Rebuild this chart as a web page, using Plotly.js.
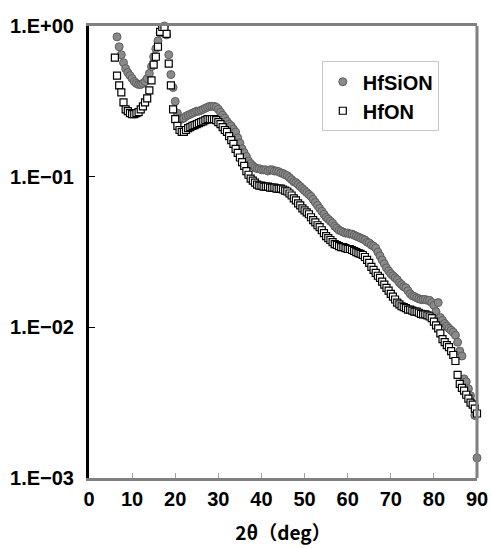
<!DOCTYPE html>
<html>
<head>
<meta charset="utf-8">
<script src="https://cdn.plot.ly/plotly-3.0.1.min.js"></script>
<style>
html,body{margin:0;padding:0;background:#fff;}
#chart{width:492px;height:548px;}
</style>
</head>
<body>
<div id="chart"></div>
<script>
// 2θ (deg) for HfSiON
const angleHfSiON = [6.5,7,7.5,8,8.5,9,9.5,10,10.5,11,11.5,12,12.5,13,13.5,14,14.5,15,15.5,16,16.5,17,17.5,18,18.5,19,19.5,20,20.5,21,21.5,22,22.5,23,23.5,24,24.5,25,25.5,26,26.5,27,27.5,28,28.5,29,29.5,30,30.5,31,31.5,32,32.5,33,33.5,34,34.5,35,35.5,36,36.5,37,37.5,38,38.5,39,39.5,40,40.5,41,41.5,42,42.5,43,43.5,44,44.5,45,45.5,46,46.5,47,47.5,48,48.5,49,49.5,50,50.5,51,51.5,52,52.5,53,53.5,54,54.5,55,55.5,56,56.5,57,57.5,58,58.5,59,59.5,60,60.5,61,61.5,62,62.5,63,63.5,64,64.5,65,65.5,66,66.5,67,67.5,68,68.5,69,69.5,70,70.5,71,71.5,72,72.5,73,73.5,74,74.5,75,75.5,76,76.5,77,77.5,78,78.5,79,79.5,80,80.5,81,81.5,82,82.5,83,83.5,84,84.5,85,85.5,86,86.5,87,87.5,88,88.5,89,89.5,90];
const intensityHfSiON = [0.847,0.728,0.645,0.571,0.522,0.491,0.469,0.448,0.428,0.416,0.409,0.409,0.416,0.428,0.448,0.484,0.538,0.625,0.707,0.797,0.899,0.985,1.0,0.873,0.645,0.476,0.391,0.316,0.264,0.245,0.241,0.245,0.252,0.256,0.260,0.264,0.268,0.272,0.272,0.276,0.280,0.285,0.289,0.293,0.293,0.293,0.289,0.280,0.268,0.256,0.245,0.233,0.223,0.217,0.207,0.198,0.181,0.167,0.153,0.144,0.136,0.127,0.122,0.118,0.115,0.113,0.113,0.111,0.111,0.111,0.109,0.111,0.111,0.109,0.109,0.108,0.106,0.105,0.103,0.1015,0.0985,0.0956,0.0927,0.0913,0.0886,0.0860,0.0834,0.0809,0.0785,0.0762,0.0739,0.0707,0.0675,0.0645,0.0616,0.0589,0.0563,0.0538,0.0522,0.0506,0.0491,0.0469,0.0455,0.0441,0.0435,0.0428,0.0422,0.0422,0.0416,0.0416,0.0409,0.0403,0.0397,0.0391,0.0385,0.0380,0.0368,0.0363,0.0352,0.0346,0.0336,0.0316,0.0298,0.0280,0.0264,0.0248,0.0237,0.0227,0.0220,0.0213,0.0207,0.0198,0.0192,0.0186,0.0183,0.0175,0.0167,0.0162,0.0160,0.0157,0.0155,0.0153,0.0153,0.0153,0.0151,0.0151,0.0146,0.0140,0.0127,0.0146,0.0116,0.0111,0.0106,0.0102,0.00985,0.00956,0.00927,0.00886,0.00797,0.00696,0.00645,0.00455,0.00435,0.00391,0.00352,0.00311,0.00260,0.00136];

// 2θ (deg) for HfON
const angleHfON = [6,6.5,7,7.5,8,8.5,9,9.5,10,10.5,11,11.5,12,12.5,13,13.5,14,14.5,15,15.5,16,16.5,17,17.5,18,18.5,19,19.5,20,20.5,21,21.5,22,22.5,23,23.5,24,24.5,25,25.5,26,26.5,27,27.5,28,28.5,29,29.5,30,30.5,31,31.5,32,32.5,33,33.5,34,34.5,35,35.5,36,36.5,37,37.5,38,38.5,39,39.5,40,40.5,41,41.5,42,42.5,43,43.5,44,44.5,45,45.5,46,46.5,47,47.5,48,48.5,49,49.5,50,50.5,51,51.5,52,52.5,53,53.5,54,54.5,55,55.5,56,56.5,57,57.5,58,58.5,59,59.5,60,60.5,61,61.5,62,62.5,63,63.5,64,64.5,65,65.5,66,66.5,67,67.5,68,68.5,69,69.5,70,70.5,71,71.5,72,72.5,73,73.5,74,74.5,75,75.5,76,76.5,77,77.5,78,78.5,79,79.5,80,80.5,81,81.5,82,82.5,83,83.5,84,84.5,85,85.5,86,86.5,87,87.5,88,88.5,89,89.5,90];
const intensityHfON = [0.616,0.469,0.403,0.363,0.311,0.280,0.272,0.264,0.260,0.260,0.264,0.268,0.280,0.293,0.311,0.331,0.374,0.435,0.554,0.625,0.728,0.913,0.985,0.985,0.886,0.563,0.403,0.280,0.241,0.217,0.204,0.198,0.198,0.204,0.210,0.213,0.217,0.220,0.223,0.227,0.230,0.233,0.237,0.241,0.241,0.241,0.241,0.237,0.230,0.223,0.213,0.204,0.198,0.186,0.175,0.165,0.153,0.144,0.134,0.125,0.118,0.109,0.103,0.0970,0.0941,0.0913,0.0886,0.0873,0.0873,0.0860,0.0860,0.0860,0.0847,0.0847,0.0847,0.0834,0.0834,0.0834,0.0822,0.0809,0.0797,0.0773,0.0750,0.0717,0.0696,0.0665,0.0645,0.0616,0.0598,0.0580,0.0563,0.0538,0.0514,0.0498,0.0476,0.0462,0.0441,0.0422,0.0403,0.0391,0.0380,0.0368,0.0357,0.0352,0.0346,0.0341,0.0341,0.0336,0.0331,0.0331,0.0326,0.0321,0.0316,0.0311,0.0307,0.0302,0.0293,0.0280,0.0268,0.0252,0.0241,0.0230,0.0220,0.0213,0.0201,0.0192,0.0183,0.0175,0.0167,0.0160,0.0153,0.0146,0.0142,0.0138,0.0136,0.0134,0.0131,0.0131,0.0129,0.0127,0.0127,0.0125,0.0123,0.0122,0.0122,0.0120,0.0118,0.0115,0.0109,0.0103,0.00985,0.00913,0.00834,0.00797,0.00762,0.00739,0.00696,0.00655,0.00598,0.00484,0.00422,0.00397,0.00380,0.00357,0.00336,0.00316,0.00307,0.00289,0.00268];

const seriesNames = ['HfSiON', 'HfON'];
const xTickVals = [0,10,20,30,40,50,60,70,80,90];
const yTickVals = [0.001, 0.01, 0.1, 1];
const yTickText = ['1.E\u221203', '1.E\u221202', '1.E\u221201', '1.E+00'];
const xTitle = '2\u03B8\uFF08deg\uFF09';

const boldFont = 'Liberation Sans, Arial, sans-serif';

const traces = [
  {
    x: angleHfSiON, y: intensityHfSiON, name: seriesNames[0],
    type: 'scatter', mode: 'markers', cliponaxis: false,
    marker: {symbol: 'circle', size: 8, color: '#8a8a8a', line: {color: '#5e5e5e', width: 1}}
  },
  {
    x: angleHfON, y: intensityHfON, name: seriesNames[1],
    type: 'scatter', mode: 'markers', cliponaxis: false,
    marker: {symbol: 'square', size: 7, color: '#ffffff', line: {color: '#000000', width: 1.2}}
  }
];

const layout = {
  width: 492, height: 548,
  margin: {l: 89, r: 15, t: 26, b: 70},
  paper_bgcolor: '#ffffff', plot_bgcolor: '#ffffff',
  showlegend: true,
  legend: {
    x: 0.6, y: 0.922, xanchor: 'left', yanchor: 'top',
    bgcolor: '#ffffff', bordercolor: '#c8c8c8', borderwidth: 1,
    font: {family: boldFont, size: 20, color: '#000000', weight: 'bold'},
    itemsizing: 'trace', itemwidth: 30, tracegroupgap: 0
  },
  xaxis: {
    range: [0, 90], tickvals: xTickVals, ticktext: xTickVals.map(String),
    showline: true, linecolor: '#808080', linewidth: 3, mirror: true,
    ticks: 'inside', ticklen: 5, tickwidth: 1, tickcolor: '#a0a0a0',
    showgrid: false, zeroline: false,
    tickfont: {family: boldFont, size: 20, color: '#000000', weight: 'bold'},
    ticklabelstandoff: 1,
    title: {text: xTitle, font: {family: 'Noto Sans CJK JP, sans-serif', size: 19, color: '#000000', weight: 'bold'}, standoff: 18}
  },
  yaxis: {
    type: 'log', range: [-3, 0],
    tickvals: yTickVals, ticktext: yTickText,
    showline: true, linecolor: '#000000', linewidth: 3, mirror: false,
    ticks: 'inside', ticklen: 6, tickwidth: 1.5, tickcolor: '#000000',
    showgrid: false, zeroline: false,
    tickfont: {family: boldFont, size: 20, color: '#000000', weight: 'bold'},
    ticklabelstandoff: 8
  },
  shapes: [
    {type: 'line', xref: 'paper', yref: 'paper', x0: 1, x1: 1, y0: 0, y1: 1, line: {color: '#808080', width: 3}}
  ]
};

Plotly.newPlot('chart', traces, layout, {displayModeBar: false, staticPlot: true});
</script>
</body>
</html>
